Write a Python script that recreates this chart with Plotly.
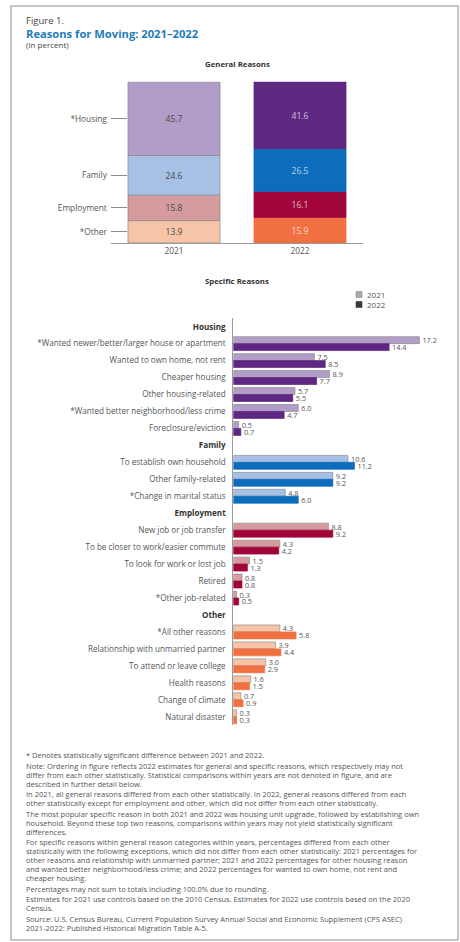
import plotly.graph_objects as go

W, H = 460, 942
FONT = "Open Sans"

# ---- General reasons (listed bottom -> top of the stack) ----
years = ["2021", "2022"]
general_groups = ["Other", "Employment", "Family", "Housing"]
general_labels = ["*Other", "Employment", "Family", "*Housing"]
general_2021 = [13.9, 15.8, 24.6, 45.7]
general_2022 = [15.9, 16.1, 26.5, 41.6]

# ---- Specific reasons ----
groups = ["Housing", "Family", "Employment", "Other"]
housing_labels = ["*Wanted newer/better/larger house or apartment", "Wanted to own home, not rent",
                  "Cheaper housing", "Other housing-related",
                  "*Wanted better neighborhood/less crime", "Foreclosure/eviction"]
housing_2021 = [17.2, 7.5, 8.9, 5.7, 6.0, 0.5]
housing_2022 = [14.4, 8.5, 7.7, 5.5, 4.7, 0.7]

family_labels = ["To establish own household", "Other family-related", "*Change in marital status"]
family_2021 = [10.6, 9.2, 4.8]
family_2022 = [11.2, 9.2, 6.0]

employment_labels = ["New job or job transfer", "To be closer to work/easier commute",
                     "To look for work or lost job", "Retired", "*Other job-related"]
employment_2021 = [8.8, 4.3, 1.5, 0.8, 0.3]
employment_2022 = [9.2, 4.2, 1.3, 0.8, 0.5]

other_labels = ["*All other reasons", "Relationship with unmarried partner", "To attend or leave college",
                "Health reasons", "Change of climate", "Natural disaster"]
other_2021 = [4.3, 3.9, 3.0, 1.6, 0.7, 0.3]
other_2022 = [5.8, 4.4, 2.9, 1.5, 0.9, 0.3]

light = {"Housing": "#b19dc7", "Family": "#a7c0e6", "Employment": "#d59b9e", "Other": "#f8c4a8"}
dark = {"Housing": "#5e2781", "Family": "#0d6cbc", "Employment": "#a10538", "Other": "#f07042"}

footnotes = [
    ["* Denotes statistically significant difference between 2021 and 2022."],
    ["Note: Ordering in figure reflects 2022 estimates for general and specific reasons, which respectively may not",
     "differ from each other statistically. Statistical comparisons within years are not denoted in figure, and are",
     "described in further detail below."],
    ["In 2021, all general reasons differed from each other statistically. In 2022, general reasons differed from each",
     "other statistically except for employment and other, which did not differ from each other statistically."],
    ["The most popular specific reason in both 2021 and 2022 was housing unit upgrade, followed by establishing own",
     "household. Beyond these top two reasons, comparisons within years may not yield statistically significant",
     "differences."],
    ["For specific reasons within general reason categories within years, percentages differed from each other",
     "statistically with the following exceptions, which did not differ from each other statistically: 2021 percentages for",
     "other reasons and relationship with unmarried partner; 2021 and 2022 percentages for other housing reason",
     "and wanted better neighborhood/less crime; and 2022 percentages for wanted to own home, not rent and",
     "cheaper housing."],
    ["Percentages may not sum to totals including 100.0% due to rounding."],
    ["Estimates for 2021 use controls based on the 2010 Census. Estimates for 2022 use controls based on the 2020",
     "Census."],
    ["Source: U.S. Census Bureau, Current Population Survey Annual Social and Economic Supplement (CPS ASEC)",
     "2021-2022: Published Historical Migration Table A-5."],
]


def px(x):
    return x / W


def py(y):
    return 1 - y / H


fig = go.Figure()

# ---- stacked general-reasons chart ----
base_2021, base_2022 = 0.0, 0.0
tick_centers = []
for g, v21, v22 in zip(general_groups, general_2021, general_2022):
    fig.add_trace(go.Bar(
        x=years, y=[v21, v22], base=[base_2021, base_2022], width=0.73,
        marker=dict(color=[light[g], dark[g]],
                    line=dict(color=["#8e8e8e", dark[g]], width=0.8)),
        text=[f"{v21:.1f}", f"{v22:.1f}"], textposition="inside", insidetextanchor="middle",
        constraintext="none",
        textfont=dict(family=FONT, size=8.5, color=["#4a4a4a", "rgba(255,255,255,0.72)"]),
        xaxis="x", yaxis="y", showlegend=False, hoverinfo="skip",
    ))
    tick_centers.append(base_2021 + v21 / 2)
    base_2021 += v21
    base_2022 += v22

# ---- grouped specific-reasons chart ----
spec_groups = [
    ("Housing", housing_labels, housing_2021, housing_2022),
    ("Family", family_labels, family_2021, family_2022),
    ("Employment", employment_labels, employment_2021, employment_2022),
    ("Other", other_labels, other_2021, other_2022),
]
tickvals, ticktext = [], []
ys, v21s, v22s, c21, c22 = [], [], [], [], []
slot = 0
for g, labels, a, b in spec_groups:
    tickvals.append(slot)
    ticktext.append(f"<span style='color:#333'><b>{g}</b></span>")
    slot += 1
    for lab, v1, v2 in zip(labels, a, b):
        tickvals.append(slot)
        ticktext.append(lab)
        ys.append(slot)
        v21s.append(v1)
        v22s.append(v2)
        c21.append(light[g])
        c22.append(dark[g])
        slot += 1

bar_w = 0.41
for vals, cols, off, edge in [(v21s, c21, -bar_w, "#8e8e8e"), (v22s, c22, 0.0, None)]:
    fig.add_trace(go.Bar(
        x=vals, y=ys, orientation="h", width=bar_w, offset=off,
        marker=dict(color=cols, line=dict(color=edge if edge else cols, width=0.7)),
        text=[f"{v:.1f}" for v in vals], textposition="outside", constraintext="none",
        cliponaxis=False, textfont=dict(family=FONT, size=7.3, color="#555"),
        xaxis="x2", yaxis="y2", showlegend=False, hoverinfo="skip",
    ))

n_slots = slot

annotations = [
    dict(text="Figure 1.", x=px(24), y=py(21), xanchor="left", yanchor="middle",
         font=dict(family=FONT, size=9.5, color="#444")),
    dict(text="<b>Reasons for Moving: 2021–2022</b>", x=px(24), y=py(34), xanchor="left", yanchor="middle",
         font=dict(family=FONT, size=11.2, color="#1f7db7")),
    dict(text="(In percent)", x=px(24), y=py(45), xanchor="left", yanchor="middle",
         font=dict(family=FONT, size=8, color="#444")),
    dict(text="<b>General Reasons</b>", x=px(237), y=py(64), xanchor="center", yanchor="middle",
         font=dict(family=FONT, size=7.8, color="#333")),
    dict(text="<b>Specific Reasons</b>", x=px(237), y=py(281), xanchor="center", yanchor="middle",
         font=dict(family=FONT, size=7.8, color="#333")),
    dict(text="2021", x=px(365), y=py(294.5), xanchor="left", yanchor="middle",
         font=dict(family=FONT, size=8, color="#555")),
    dict(text="2022", x=px(365), y=py(304.5), xanchor="left", yanchor="middle",
         font=dict(family=FONT, size=8, color="#555")),
]

# footnote block
y_line = 755.0
for para in footnotes:
    for line in para:
        annotations.append(dict(text=line, x=px(24), y=py(y_line), xanchor="left", yanchor="middle",
                                font=dict(family=FONT, size=7.5, color="#555")))
        y_line += 9.0
    y_line += 1.5

for a in annotations:
    a.update(xref="paper", yref="paper", showarrow=False)

shapes = [
    # figure frame
    dict(type="rect", xref="paper", yref="paper", x0=px(11), x1=px(458), y0=py(940), y1=py(6),
         line=dict(color="#b4b4b4", width=1.5), fillcolor="rgba(0,0,0,0)"),
    # legend swatches
    dict(type="rect", xref="paper", yref="paper", x0=px(356), x1=px(362), y0=py(297.5), y1=py(291.5),
         fillcolor="#a9a9a9", line=dict(color="#8a8a8a", width=0.6)),
    dict(type="rect", xref="paper", yref="paper", x0=px(356), x1=px(362), y0=py(307.5), y1=py(301.5),
         fillcolor="#3a3a3a", line=dict(color="#3a3a3a", width=0.6)),
]

fig.update_layout(
    width=W, height=H, margin=dict(l=0, r=0, t=0, b=0),
    paper_bgcolor="white", plot_bgcolor="white",
    barmode="overlay", showlegend=False,
    font=dict(family=FONT, color="#555"),
    xaxis=dict(domain=[px(111), px(363)], anchor="y", type="category", range=[-0.5, 1.5],
               showline=True, linecolor="#9a9a9a", linewidth=1, ticks="", showgrid=False,
               tickfont=dict(family=FONT, size=8.3, color="#555"), fixedrange=True),
    yaxis=dict(domain=[py(243), py(81.7)], anchor="free", position=px(126.5),
               range=[0, 100.1], showline=False, showgrid=False, zeroline=False,
               tickvals=tick_centers, ticktext=general_labels, ticks="outside", ticklen=16,
               tickcolor="#8a8a8a", tickwidth=1, ticklabelstandoff=2,
               tickfont=dict(family=FONT, size=8.3, color="#555"), fixedrange=True),
    xaxis2=dict(domain=[px(233.3), px(233.3 + 18 * 10.82)], anchor="y2", range=[0, 18],
                visible=False, fixedrange=True),
    yaxis2=dict(domain=[py(725.2), py(318.2)], anchor="x2", range=[n_slots - 0.5, -0.5],
                tickvals=tickvals, ticktext=ticktext, showline=True, linecolor="#9a9a9a",
                linewidth=1, ticks="", showgrid=False, zeroline=False, ticklabelstandoff=5,
                tickfont=dict(family=FONT, size=8.1, color="#555"), fixedrange=True),
    annotations=annotations,
    shapes=shapes,
)

fig.write_html("out.html", config={"displayModeBar": False})
